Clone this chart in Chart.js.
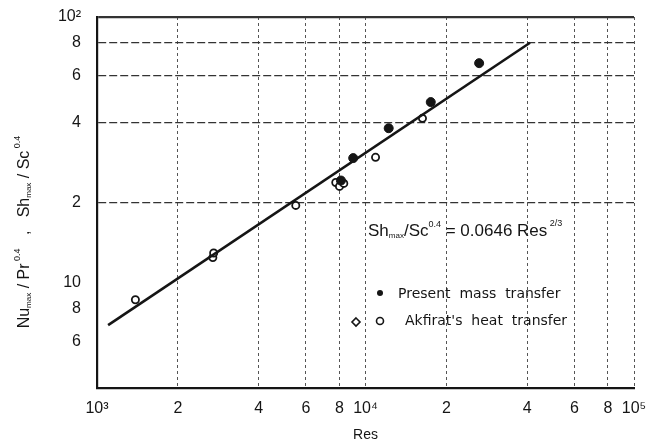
<!DOCTYPE html>
<html>
<head>
<meta charset="utf-8">
<script src="https://cdn.jsdelivr.net/npm/chart.js@4"></script>
<style>
  html, body { margin: 0; padding: 0; background: #fff; }
  #wrap { width: 653px; height: 446px; }
</style>
</head>
<body>
<div id="wrap"><canvas id="chart" width="653" height="446"></canvas></div>
<script>
// correlation line Sh/Sc^0.4 = 0.0646 Res^(2/3), end points
const fitRes = [1100, 41000];
const fitVal = [6.9, 80];

// present mass transfer (filled dots)
const massRes = [8100, 9000, 12200, 17500, 26500];
const massVal = [24.2, 29.4, 38.1, 47.8, 67];

// Akfirat's heat transfer (open symbols)
const heatRes = [1390, 2700, 2720, 5500, 7750, 8000, 8300, 10900, 16300];
const heatVal = [8.6, 12.4, 12.9, 19.5, 23.8, 23.0, 23.6, 29.6, 41.5];

// axis ticks
const xTickValues = [1000, 2000, 4000, 6000, 8000, 10000, 20000, 40000, 60000, 80000, 100000];
const xTickLabels = ['10³', '2', '4', '6', '8', '10⁴', '2', '4', '6', '8', '10⁵'];
const yTickValues = [6, 8, 10, 20, 40, 60, 80, 100];
const yTickLabels = ['6', '8', '10', '2', '4', '6', '8', '10²'];
const yGridValues = [20, 40, 60, 80, 100];

const INK = '#151515';
const toPts = (xs, ys) => xs.map((x, i) => ({ x: x, y: ys[i] }));

// draws a string made of parts with sub/superscripts, returns width
function richWidth(ctx, parts, family) {
  let w = 0;
  parts.forEach(p => { ctx.font = p.size + 'px ' + family; w += ctx.measureText(p.t).width; });
  return w;
}
function drawRich(ctx, parts, x, y, family) {
  parts.forEach(p => {
    ctx.font = p.size + 'px ' + family;
    ctx.fillText(p.t, x, y + (p.dy || 0));
    x += ctx.measureText(p.t).width;
  });
}

const textPlugin = {
  id: 'texts',
  afterDraw(chart) {
    const ctx = chart.ctx;
    ctx.save();
    ctx.fillStyle = INK;
    ctx.strokeStyle = INK;
    ctx.textBaseline = 'alphabetic';
    ctx.textAlign = 'left';

    // y axis title (rotated)
    const fam = '"Liberation Sans", Arial, sans-serif';
    const yTitle = [
      { t: 'Nu', size: 16 }, { t: 'max', size: 8, dy: 2 }, { t: ' / Pr', size: 16 }, { t: ' 0.4', size: 9, dy: -9 },
      { t: '   ,   Sh', size: 16 }, { t: 'max', size: 8, dy: 2 }, { t: ' / Sc', size: 16 }, { t: ' 0.4', size: 9, dy: -9 }
    ];
    const tw = richWidth(ctx, yTitle, fam);
    ctx.translate(29, 232);
    ctx.rotate(-Math.PI / 2);
    drawRich(ctx, yTitle, -tw / 2, 0, fam);
    ctx.setTransform(1, 0, 0, 1, 0, 0);

    // correlation equation
    const eq = [
      { t: 'Sh', size: 17 }, { t: 'max', size: 8, dy: 2 }, { t: '/Sc', size: 17 }, { t: '0.4', size: 9, dy: -9 },
      { t: ' = 0.0646 Res', size: 17 }, { t: ' 2/3', size: 9, dy: -10 }
    ];
    drawRich(ctx, eq, 368, 236, fam);

    // legend
    const lf = '14px "DejaVu Sans", sans-serif';
    ctx.font = lf;
    ctx.beginPath();
    ctx.arc(380, 293, 3, 0, Math.PI * 2);
    ctx.fill();
    ctx.fillText('Present  mass  transfer', 398, 298);

    ctx.lineWidth = 1.6;
    ctx.beginPath();
    ctx.moveTo(356, 318); ctx.lineTo(360, 322); ctx.lineTo(356, 326); ctx.lineTo(352, 322); ctx.closePath();
    ctx.stroke();
    ctx.beginPath();
    ctx.arc(380, 321, 3.5, 0, Math.PI * 2);
    ctx.stroke();
    ctx.fillText('Akfirat\'s  heat  transfer', 405, 325);
    ctx.restore();
  }
};

new Chart(document.getElementById('chart'), {
  type: 'scatter',
  data: {
    datasets: [
      {
        label: 'fit',
        data: toPts(fitRes, fitVal),
        showLine: true,
        borderColor: INK,
        borderWidth: 2.6,
        pointRadius: 0
      },
      {
        label: 'Present mass transfer',
        data: toPts(massRes, massVal),
        pointStyle: 'circle',
        pointRadius: 4.5,
        backgroundColor: INK,
        borderColor: INK
      },
      {
        label: "Akfirat's heat transfer",
        data: toPts(heatRes, heatVal),
        pointStyle: 'circle',
        pointRadius: 3.6,
        borderWidth: 1.8,
        backgroundColor: '#fff',
        borderColor: INK
      }
    ]
  },
  options: {
    responsive: false,
    animation: false,
    layout: { padding: { top: 17, right: 19, left: 0, bottom: 0 } },
    plugins: { legend: { display: false }, tooltip: { enabled: false } },
    scales: {
      x: {
        type: 'logarithmic',
        min: 1000,
        max: 100000,
        bounds: 'data',
        afterBuildTicks: s => { s.ticks = xTickValues.map(v => ({ value: v })); },
        afterFit: s => { s.height = 58; s.paddingLeft = 0; s.paddingRight = 0; },
        ticks: {
          color: INK,
          font: { family: '"Liberation Sans", Arial, sans-serif', size: 16 },
          padding: 11,
          maxRotation: 0,
          autoSkip: false,
          callback: (v) => xTickLabels[xTickValues.indexOf(v)]
        },
        grid: {
          drawTicks: false,
          color: ctx => (ctx.tick && ctx.tick.value === 1000) ? 'rgba(0,0,0,0)' : '#555',
          lineWidth: 1
        },
        border: { color: INK, width: 2.2, dash: [3, 3] },
        title: {
          display: true,
          text: 'Res',
          color: INK,
          font: { family: '"Liberation Sans", Arial, sans-serif', size: 14 },
          padding: { top: 0, bottom: 2 }
        }
      },
      y: {
        type: 'logarithmic',
        min: 4,
        max: 100,
        bounds: 'data',
        afterBuildTicks: s => { s.ticks = yTickValues.map(v => ({ value: v })); },
        afterFit: s => { s.width = 97; s.paddingTop = 0; s.paddingBottom = 0; },
        ticks: {
          color: INK,
          font: { family: '"Liberation Sans", Arial, sans-serif', size: 16 },
          padding: 16,
          autoSkip: false,
          callback: (v) => yTickLabels[yTickValues.indexOf(v)]
        },
        grid: {
          drawTicks: false,
          color: ctx => (ctx.tick && yGridValues.indexOf(ctx.tick.value) >= 0) ? '#333' : 'rgba(0,0,0,0)',
          lineWidth: ctx => (ctx.tick && ctx.tick.value === 100) ? 2.2 : 1.2
        },
        border: {
          color: INK,
          width: 2.2,
          dash: ctx => (ctx.tick && ctx.tick.value === 100) ? [] : [8, 3]
        }
      }
    }
  },
  plugins: [textPlugin]
});
</script>
</body>
</html>
